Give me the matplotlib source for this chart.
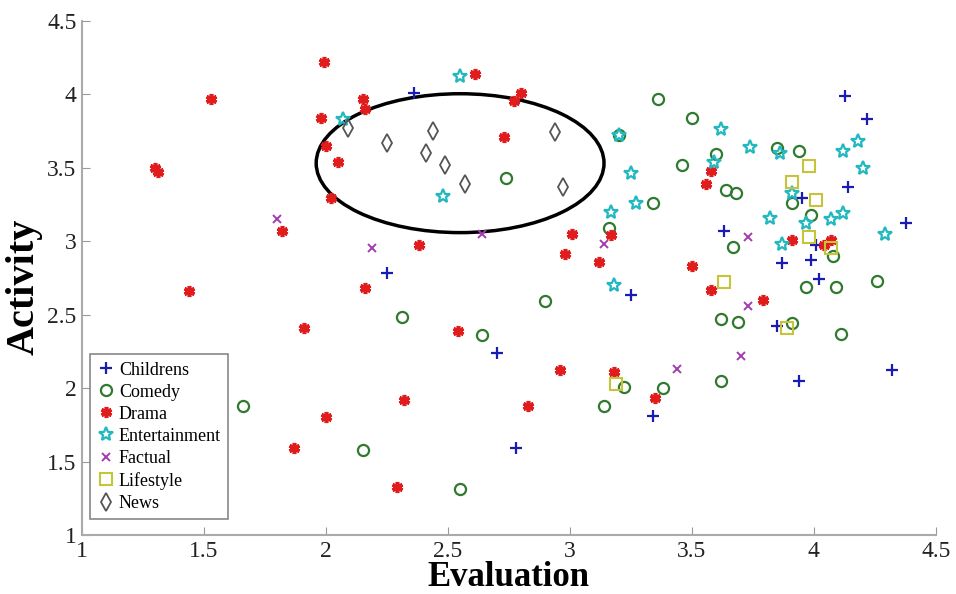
import matplotlib.pyplot as plt
from matplotlib.patches import Ellipse

# evaluation / activity scores per genre
childrens_x = [2.36, 2.25, 2.70, 2.78, 3.25, 3.34, 3.63, 3.85, 3.87, 3.94, 3.95, 3.99,
               4.01, 4.02, 4.13, 4.14, 4.22, 4.32, 4.38]
childrens_y = [4.01, 2.78, 2.24, 1.59, 2.63, 1.81, 3.07, 2.42, 2.85, 2.05, 3.29, 2.87,
               2.97, 2.74, 3.99, 3.37, 3.83, 2.12, 3.12]

comedy_x = [1.66, 2.15, 2.31, 2.55, 2.64, 2.74, 2.90, 3.14, 3.16, 3.20, 3.22, 3.34,
            3.36, 3.38, 3.46, 3.50, 3.60, 3.62, 3.62, 3.64, 3.67, 3.68, 3.69, 3.85,
            3.91, 3.91, 3.94, 3.97, 3.99, 4.08, 4.09, 4.11, 4.26]
comedy_y = [1.88, 1.58, 2.48, 1.31, 2.36, 3.43, 2.59, 1.88, 3.09, 3.72, 2.01, 3.26,
            3.97, 2.00, 3.52, 3.84, 3.59, 2.47, 2.05, 3.35, 2.96, 3.33, 2.45, 3.63,
            3.26, 2.44, 3.61, 2.69, 3.18, 2.90, 2.69, 2.37, 2.73]

drama_x = [1.30, 1.31, 1.44, 1.53, 1.82, 1.87, 1.91, 1.98, 1.99, 2.00, 2.00, 2.02,
           2.05, 2.15, 2.16, 2.16, 2.29, 2.32, 2.38, 2.54, 2.61, 2.73, 2.77, 2.80,
           2.83, 2.96, 2.98, 3.01, 3.12, 3.17, 3.18, 3.35, 3.50, 3.56, 3.58, 3.58,
           3.79, 3.91, 4.04, 4.07]
drama_y = [3.50, 3.47, 2.66, 3.97, 3.07, 1.59, 2.41, 3.84, 4.22, 3.65, 1.80, 3.29,
           3.54, 3.97, 3.90, 2.68, 1.33, 1.92, 2.97, 2.39, 4.14, 3.71, 3.95, 4.01,
           1.88, 2.12, 2.91, 3.05, 2.86, 3.04, 2.11, 1.93, 2.83, 3.39, 3.48, 2.67,
           2.60, 3.01, 2.97, 3.01]

entertainment_x = [2.07, 2.48, 2.55, 3.17, 3.18, 3.20, 3.25, 3.27, 3.59, 3.62, 3.74,
                   3.82, 3.86, 3.87, 3.91, 3.97, 4.07, 4.12, 4.12, 4.18, 4.20, 4.29]
entertainment_y = [3.83, 3.31, 4.12, 3.20, 2.70, 3.72, 3.46, 3.26, 3.54, 3.76, 3.64,
                   3.16, 3.60, 2.98, 3.33, 3.12, 3.15, 3.19, 3.61, 3.68, 3.50, 3.05]

factual_x = [1.80, 2.19, 2.64, 3.14, 3.44, 3.70, 3.73, 3.73]
factual_y = [3.15, 2.95, 3.05, 2.98, 2.13, 2.22, 2.56, 3.03]

lifestyle_x = [3.19, 3.63, 3.89, 3.91, 3.98, 3.98, 4.01, 4.07]
lifestyle_y = [2.03, 2.72, 2.41, 3.40, 3.51, 3.03, 3.28, 2.95]

news_x = [2.09, 2.25, 2.41, 2.44, 2.49, 2.57, 2.94, 2.97]
news_y = [3.77, 3.67, 3.60, 3.75, 3.52, 3.39, 3.74, 3.37]

serif = ["Liberation Serif", "DejaVu Serif"]

fig = plt.figure(figsize=(9.56, 5.94), dpi=100)
ax = fig.add_axes([0.0858, 0.0993, 0.893, 0.866])

ax.plot(childrens_x, childrens_y, "+", color="#1a1ab4", ms=9, mew=1.6, label="Childrens")
ax.plot(comedy_x, comedy_y, "o", color="#2f7a2f", mfc="none", ms=8, mew=1.6, label="Comedy")
ax.plot(drama_x, drama_y, marker=(6, 2, 0), ls="none", color="#e01c1c", ms=8, mew=2.6,
        label="Drama")
ax.plot(entertainment_x, entertainment_y, "*", color="#22b8c0", mfc="none", ms=10, mew=1.6,
        label="Entertainment")
ax.plot(factual_x, factual_y, "x", color="#a23cb0", ms=6, mew=1.4, label="Factual")
ax.plot(lifestyle_x, lifestyle_y, "s", color="#c6c43a", mfc="none", ms=8, mew=1.5,
        label="Lifestyle")
ax.plot(news_x, news_y, "d", color="#555555", mfc="none", ms=9, mew=1.3, label="News")

# the news cluster
ax.add_patch(Ellipse((2.55, 3.53), 1.18, 0.945, fill=False, ec="black", lw=2.5))

ticks = [1, 1.5, 2, 2.5, 3, 3.5, 4, 4.5]
tick_labels = ["1", "1.5", "2", "2.5", "3", "3.5", "4", "4.5"]
ax.set_xlim(1, 4.5)
ax.set_ylim(1, 4.5)
ax.set_xticks(ticks)
ax.set_yticks(ticks)
ax.set_xticklabels(tick_labels)
ax.set_yticklabels(tick_labels)
ax.tick_params(direction="in", length=6, color="#999999", labelcolor="#222222",
               labelsize=17, pad=4)
for lab in ax.get_xticklabels() + ax.get_yticklabels():
    lab.set_family(serif)

for side in ["top", "right"]:
    ax.spines[side].set_visible(False)
for side in ["left", "bottom"]:
    ax.spines[side].set_color("#aaaaaa")
    ax.spines[side].set_linewidth(1.5)

ax.set_xlabel("Evaluation", family=serif, fontsize=25, fontweight="bold")
ax.xaxis.set_label_coords(0.5, -0.05)
ax.set_ylabel("Activity", family=serif, fontsize=29, fontweight="bold")
ax.yaxis.set_label_coords(-0.046, 0.483)

leg = ax.legend(loc="lower left", bbox_to_anchor=(0.0094, 0.031), borderaxespad=0,
                prop={"family": serif, "size": 13}, fancybox=False, edgecolor="#888888",
                framealpha=1, handletextpad=0.2, labelspacing=0.28, borderpad=0.4,
                handlelength=1.0)
leg.get_frame().set_linewidth(1.2)

plt.savefig("out.png", dpi=100)
plt.close()
